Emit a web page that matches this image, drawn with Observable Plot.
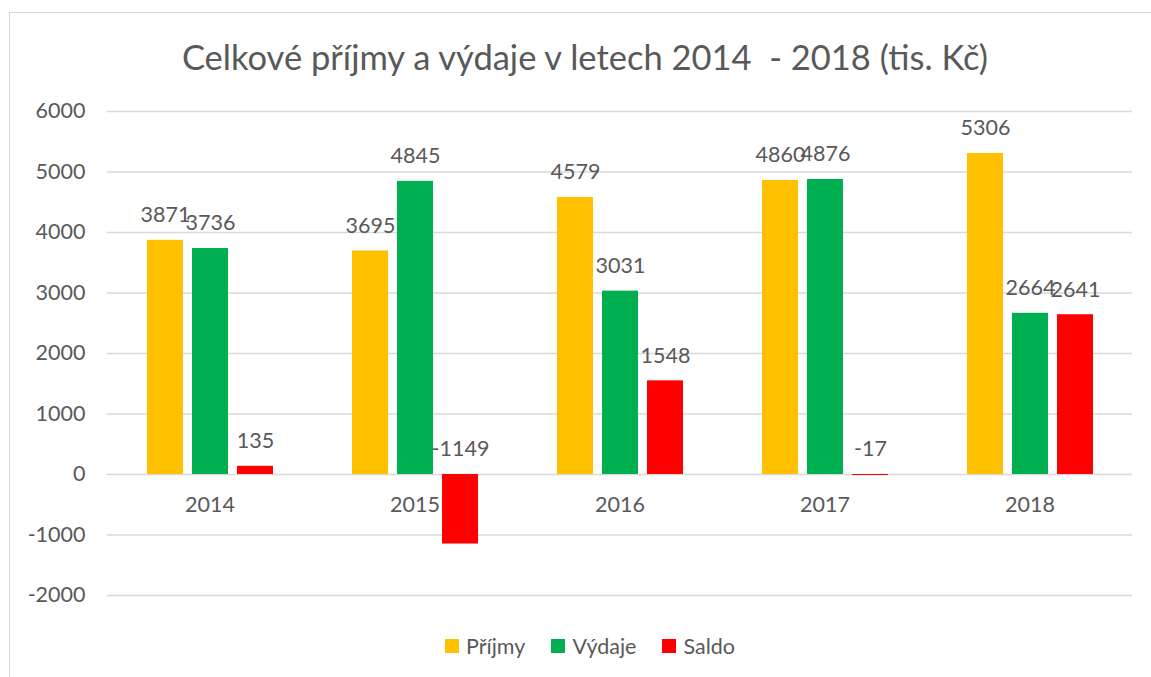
<!DOCTYPE html>
<html>
<head>
<meta charset="utf-8">
<script src="https://cdn.jsdelivr.net/npm/d3@7"></script>
<script src="https://cdn.jsdelivr.net/npm/@observablehq/plot@0.6"></script>
<style>
  html, body { margin: 0; padding: 0; background: #fff; overflow: hidden; }
  #wrap { position: relative; width: 1151px; height: 677px; overflow: hidden; font-family: Lato, "Open Sans", sans-serif; color: #595959; }
  #border { position: absolute; left: 9px; top: 12px; width: 1300px; height: 800px; border: 1.5px solid #d9d9d9; box-sizing: border-box; }
  #title { position: absolute; left: 0; top: 34px; width: 1170px; text-align: center; font-size: 34.5px; line-height: 46px; white-space: pre; }
  #chart { position: absolute; left: 0; top: 90px; }
  #legend { position: absolute; left: 0; top: 632px; width: 1180px; display: flex; justify-content: center; align-items: center; font-size: 21.5px; line-height: 28px; }
  .item { display: flex; align-items: center; margin: 0 13px; }
  .sw { width: 14px; height: 14px; margin-right: 7px; }
</style>
</head>
<body>
<div id="wrap">
  <div id="border"></div>
  <div id="title">Celkové příjmy a výdaje v letech 2014  - 2018 (tis. Kč)</div>
  <div id="chart"></div>
  <div id="legend"></div>
</div>
<script>
const years = ["2014", "2015", "2016", "2017", "2018"];
const seriesNames = ["Příjmy", "Výdaje", "Saldo"];
const seriesColors = ["#FFC000", "#00B050", "#FF0000"];
const prijmy = [3871, 3695, 4579, 4860, 5306];
const vydaje = [3736, 4845, 3031, 4876, 2664];
const saldo = [135, -1149, 1548, -17, 2641];
const yTicks = [-2000, -1000, 0, 1000, 2000, 3000, 4000, 5000, 6000];

const seriesValues = [prijmy, vydaje, saldo];
const data = [];
years.forEach((yr, i) => {
  seriesNames.forEach((s, j) => {
    data.push({year: yr, series: s, value: seriesValues[j][i]});
  });
});
const yearRows = years.map(yr => ({year: yr, base: 0}));

const textColor = "#595959";
const plot = Plot.plot({
  width: 1151,
  height: 540,
  marginLeft: 105,
  marginRight: 18,
  marginTop: 21,
  marginBottom: 35,
  style: {fontFamily: "Lato, 'Open Sans', sans-serif", fontSize: "21px", color: textColor, background: "transparent", overflow: "visible"},
  fx: {domain: years, paddingInner: 0, paddingOuter: 0, axis: null, label: null},
  x: {domain: seriesNames, paddingInner: 0.21, paddingOuter: 0.864, axis: null, label: null},
  y: {domain: [-2000, 6000], ticks: yTicks, label: null},
  color: {domain: seriesNames, range: seriesColors},
  marks: [
    Plot.ruleY(yTicks, {stroke: "#d9d9d9", strokeWidth: 1.5}),
    Plot.axisY({ticks: yTicks, tickSize: 0, tickPadding: 22, tickFormat: d => String(d), fontSize: 21.5, fill: textColor, label: null, facetAnchor: "left"}),
    Plot.barY(data, {fx: "year", x: "series", y: "value", fill: "series"}),
    Plot.text(data, {fx: "year", x: "series", y: d => Math.max(0, d.value), text: d => String(d.value), dy: -25, fill: textColor, fontSize: 21.5}),
    Plot.text(yearRows, {fx: "year", y: "base", text: "year", dy: 31, fill: textColor, fontSize: 21.5})
  ]
});
document.getElementById("chart").appendChild(plot);

const legend = document.getElementById("legend");
seriesNames.forEach((s, j) => {
  const item = document.createElement("div");
  item.className = "item";
  const sw = document.createElement("div");
  sw.className = "sw";
  sw.style.background = seriesColors[j];
  const lab = document.createElement("span");
  lab.textContent = s;
  item.appendChild(sw);
  item.appendChild(lab);
  legend.appendChild(item);
});
</script>
</body>
</html>
